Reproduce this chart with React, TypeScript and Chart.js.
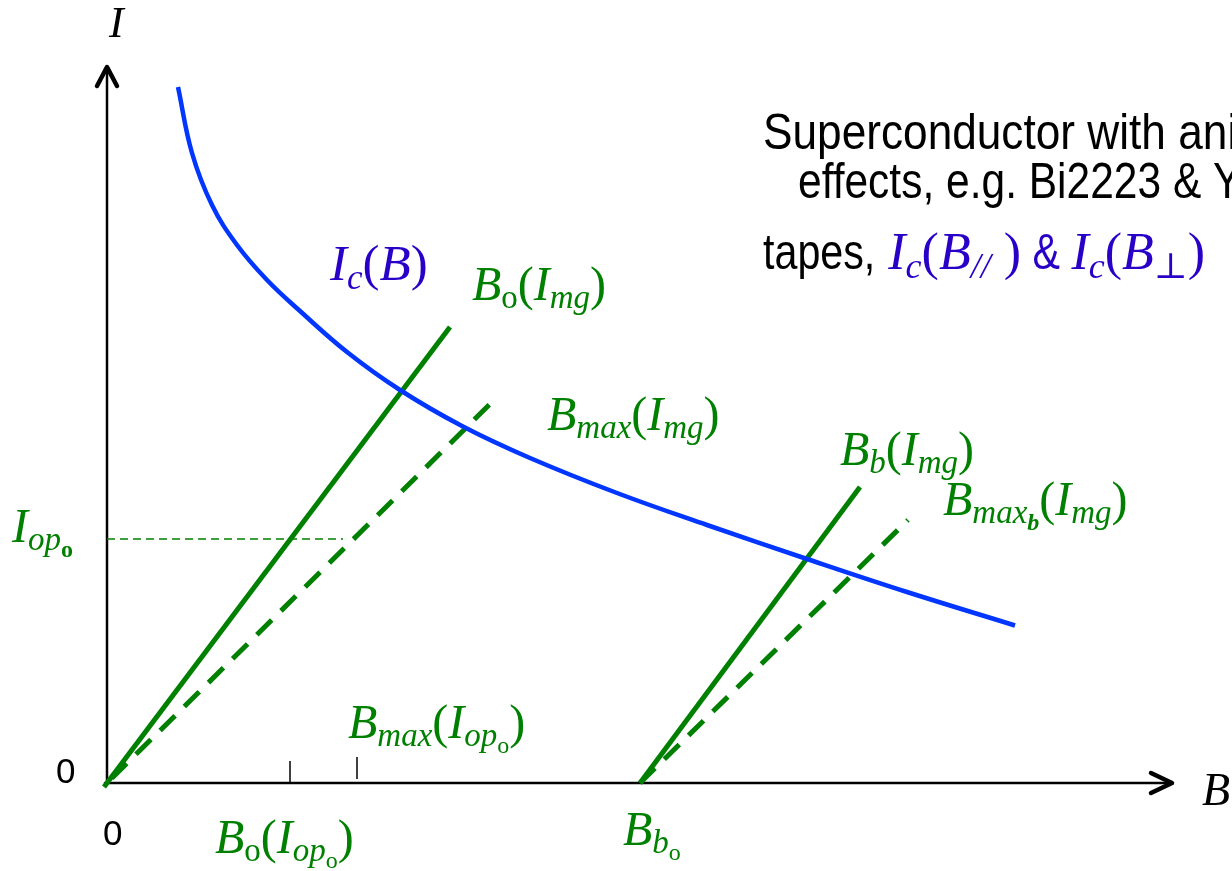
import React, { useEffect, useRef } from 'react';
import { Chart, registerables } from 'chart.js';

Chart.register(...registerables);

// ---- data (B along x, I along y, arbitrary units) ----
const icB = [0.71, 0.85, 1.05, 1.3, 1.6, 1.93, 2.4, 2.93, 3.55, 4.23, 5.1, 6.0, 7.0, 8.0, 9.08];
const icI = [6.96, 6.3, 5.78, 5.38, 5.03, 4.72, 4.31, 3.93, 3.57, 3.25, 2.9, 2.58, 2.24, 1.91, 1.575];
const bOB = [-0.03, 3.43];
const bOI = [-0.04, 4.56];
const bMaxOB = [-0.03, 3.83];
const bMaxOI = [-0.03, 3.79];
const bBB = [5.33, 7.53];
const bBI = [0, 2.96];
const bMaxBB = [5.33, 8.01];
const bMaxBI = [0, 2.63];
const iopO = 2.44;
const iopGuideEnd = 2.36;
const tickB = [1.83, 2.5];
const tickLow = [0, 0.04];
const tickHigh = [0.22, 0.26];
const xRange = [-1.07, 11.25];
const yRange = [-0.88, 7.83];
const axisEndB = 10.65;
const axisEndI = 7.16;

const zip = (xs: number[], ys: number[]) => xs.map((x, i) => ({ x, y: ys[i] }));

const GREEN = '#008000';
const BLUE = '#0036ff';
const MATHBLUE = '#2800c8';
const SERIF = '"Liberation Serif", "DejaVu Serif", serif';

type Run = { t: string; f: 'i' | 'r' | 'b' | 'bi' | 'sans'; s: number; dy?: number; c?: string };

let narrowOK: boolean | null = null;
function hasNarrow(ctx: CanvasRenderingContext2D) {
  if (narrowOK !== null) return narrowOK;
  ctx.save();
  ctx.font = '50px "Liberation Sans Narrow", monospace';
  const a = ctx.measureText('Superconductor with').width;
  ctx.font = '50px monospace';
  const b = ctx.measureText('Superconductor with').width;
  ctx.restore();
  narrowOK = Math.abs(a - b) > 1;
  return narrowOK;
}

function drawRuns(ctx: CanvasRenderingContext2D, x: number, y: number, runs: Run[], color: string, stretch = 1) {
  let cx = x;
  for (const r of runs) {
    ctx.save();
    ctx.fillStyle = r.c || color;
    ctx.textBaseline = 'alphabetic';
    ctx.textAlign = 'left';
    let sx = 1;
    if (r.f === 'sans') {
      if (hasNarrow(ctx)) {
        ctx.font = `${r.s}px "Liberation Sans Narrow", "Liberation Sans", sans-serif`;
        sx = stretch;
      } else {
        ctx.font = `${r.s}px "Liberation Sans", Arial, sans-serif`;
        sx = 0.85 * stretch;
      }
    } else {
      const style = r.f === 'i' || r.f === 'bi' ? 'italic ' : '';
      const weight = r.f === 'b' || r.f === 'bi' ? 'bold ' : '';
      ctx.font = `${style}${weight}${r.s}px ${SERIF}`;
    }
    const w = ctx.measureText(r.t).width * sx;
    ctx.translate(cx, y + (r.dy || 0));
    ctx.scale(sx, 1);
    ctx.fillText(r.t, 0, 0);
    ctx.restore();
    cx += w;
  }
}

const G = 48;
const GS = 33;
const GSS = 24;
const sub = (t: string, f: Run['f'] = 'i'): Run => ({ t, f, s: GS, dy: 8 });
const subsub = (t: string, f: Run['f'] = 'r'): Run => ({ t, f, s: GSS, dy: 15 });
const B: Run = { t: 'B', f: 'i', s: G };
const I: Run = { t: 'I', f: 'i', s: G };
const LP: Run = { t: '(', f: 'r', s: G };
const RP: Run = { t: ')', f: 'r', s: G };

const greenLabels: { x: number; y: number; runs: Run[] }[] = [
  { x: 3.65, y: 4.83, runs: [B, sub('o', 'r'), LP, I, sub('mg'), RP] },
  { x: 4.4, y: 3.53, runs: [B, sub('max'), LP, I, sub('mg'), RP] },
  { x: 7.33, y: 3.18, runs: [B, sub('b'), LP, I, sub('mg'), RP] },
  { x: 8.36, y: 2.68, runs: [B, sub('max'), subsub('b', 'bi'), LP, I, sub('mg'), RP] },
  { x: -0.95, y: 2.41, runs: [I, sub('op'), subsub('o', 'b')] },
  { x: 2.41, y: 0.45, runs: [B, sub('max'), LP, I, sub('op'), subsub('o'), RP] },
  { x: 1.08, y: -0.7, runs: [B, sub('o', 'r'), LP, I, sub('op'), subsub('o'), RP] },
  { x: 5.16, y: -0.62, runs: [B, sub('b'), subsub('o')] },
];

const M = 52;
const MS = 36;
const icLabel: Run[] = [
  { t: 'I', f: 'i', s: 51 },
  { t: 'c', f: 'i', s: 35, dy: 9 },
  { t: '(', f: 'r', s: 51 },
  { t: 'B', f: 'i', s: 51 },
  { t: ')', f: 'r', s: 51 },
];

const noteLine1: Run[] = [{ t: 'Superconductor with anisotropic', f: 'sans', s: 50 }];
const noteLine2: Run[] = [{ t: 'effects, e.g. Bi2223 & YBCO', f: 'sans', s: 50 }];
const noteLine3: Run[] = [
  { t: 'tapes,', f: 'sans', s: 50, c: '#000' },
  { t: ' ', f: 'r', s: M },
  { t: 'I', f: 'i', s: M },
  { t: 'c', f: 'i', s: MS, dy: 9 },
  { t: '(', f: 'r', s: M },
  { t: 'B', f: 'i', s: M },
  { t: '//', f: 'i', s: MS, dy: 9 },
  { t: ' )', f: 'r', s: M },
  { t: ' & ', f: 'sans', s: 50 },
  { t: 'I', f: 'i', s: M },
  { t: 'c', f: 'i', s: MS, dy: 9 },
  { t: '(', f: 'r', s: M },
  { t: 'B', f: 'i', s: M },
  { t: '\u22A5', f: 'r', s: MS, dy: 9 },
  { t: ')', f: 'r', s: M },
];

const diagramPlugin = {
  id: 'diagram',
  beforeDatasetsDraw(chart: any) {
    const ctx: CanvasRenderingContext2D = chart.ctx;
    const xs = chart.scales.x;
    const ys = chart.scales.y;
    const ox = xs.getPixelForValue(0);
    const oy = ys.getPixelForValue(0);
    const tx = xs.getPixelForValue(axisEndB);
    const ty = ys.getPixelForValue(axisEndI);
    ctx.save();
    ctx.strokeStyle = '#000';
    ctx.lineCap = 'round';
    ctx.lineJoin = 'round';
    ctx.lineWidth = 2.5;
    ctx.beginPath();
    ctx.moveTo(ox, oy);
    ctx.lineTo(ox, ty + 2);
    ctx.moveTo(ox - 2, oy);
    ctx.lineTo(tx - 2, oy);
    ctx.stroke();
    ctx.lineWidth = 4.5;
    ctx.beginPath();
    ctx.moveTo(ox - 10, ty + 19);
    ctx.lineTo(ox, ty);
    ctx.lineTo(ox + 10, ty + 19);
    ctx.moveTo(tx - 21, oy - 10);
    ctx.lineTo(tx, oy);
    ctx.lineTo(tx - 21, oy + 10);
    ctx.stroke();
    ctx.restore();
  },
  afterDraw(chart: any) {
    const ctx: CanvasRenderingContext2D = chart.ctx;
    const xs = chart.scales.x;
    const ys = chart.scales.y;
    const P = (x: number, y: number) => [xs.getPixelForValue(x), ys.getPixelForValue(y)];
    for (const l of greenLabels) {
      const [px, py] = P(l.x, l.y);
      drawRuns(ctx, px, py, l.runs, GREEN);
    }
    let [px, py] = P(2.23, 5.03);
    drawRuns(ctx, px, py, icLabel, MATHBLUE);
    [px, py] = P(0.02, 7.46);
    drawRuns(ctx, px, py, [{ t: 'I', f: 'i', s: 44 }], '#000');
    [px, py] = P(10.95, -0.22);
    drawRuns(ctx, px, py, [{ t: 'B', f: 'i', s: 46 }], '#000');
    ctx.save();
    ctx.fillStyle = '#000';
    ctx.font = '35px "Liberation Sans", Arial, sans-serif';
    [px, py] = P(-0.51, 0.0);
    ctx.fillText('0', px, py);
    [px, py] = P(-0.04, -0.62);
    ctx.fillText('0', px, py);
    ctx.restore();
    [px, py] = P(6.56, 6.34);
    drawRuns(ctx, px, py, noteLine1, '#000', 1.04);
    [px, py] = P(6.91, 5.85);
    drawRuns(ctx, px, py, noteLine2, '#000', 1.0);
    [px, py] = P(6.56, 5.14);
    drawRuns(ctx, px, py, noteLine3, MATHBLUE, 0.97);
  },
};

export default function App() {
  const ref = useRef<HTMLCanvasElement>(null);
  useEffect(() => {
    if (!ref.current) return;
    const chart = new Chart(ref.current, {
      type: 'line',
      data: {
        datasets: [
          {
            label: 'Ic(B)',
            data: zip(icB, icI),
            borderColor: BLUE,
            borderWidth: 4.5,
            tension: 0.4,
            pointRadius: 0,
          },
          {
            label: 'Bo(Img)',
            data: zip(bOB, bOI),
            borderColor: GREEN,
            borderWidth: 5,
            pointRadius: 0,
          },
          {
            label: 'Bmax(Img)',
            data: zip(bMaxOB, bMaxOI),
            borderColor: GREEN,
            borderWidth: 5,
            borderDash: [21, 13],
            borderDashOffset: 23,
            pointRadius: 0,
          },
          {
            label: 'Bb(Img)',
            data: zip(bBB, bBI),
            borderColor: GREEN,
            borderWidth: 5,
            pointRadius: 0,
          },
          {
            label: 'Bmaxb(Img)',
            data: zip(bMaxBB, bMaxBI),
            borderColor: GREEN,
            borderWidth: 5,
            borderDash: [21, 13],
            pointRadius: 0,
          },
          {
            label: 'Iop',
            data: [
              { x: 0, y: iopO },
              { x: iopGuideEnd, y: iopO },
            ],
            borderColor: GREEN,
            borderWidth: 1.5,
            borderDash: [8, 5],
            pointRadius: 0,
          },
          ...tickB.map((b, i) => ({
            label: 'tick' + i,
            data: [
              { x: b, y: tickLow[i] },
              { x: b, y: tickHigh[i] },
            ],
            borderColor: '#000',
            borderWidth: 1.5,
            pointRadius: 0,
          })),
        ],
      } as any,
      options: {
        animation: false,
        responsive: false,
        devicePixelRatio: 1,
        layout: { padding: 0 },
        plugins: { legend: { display: false }, tooltip: { enabled: false }, title: { display: false } },
        scales: {
          x: { type: 'linear', min: xRange[0], max: xRange[1], display: false },
          y: { type: 'linear', min: yRange[0], max: yRange[1], display: false },
        },
      } as any,
      plugins: [diagramPlugin],
    });
    return () => chart.destroy();
  }, []);
  return (
    <div style={{ position: 'fixed', left: 0, top: 0, width: 1232, height: 871, background: '#fff' }}>
      <canvas ref={ref} width={1232} height={871} style={{ display: 'block' }} />
    </div>
  );
}
